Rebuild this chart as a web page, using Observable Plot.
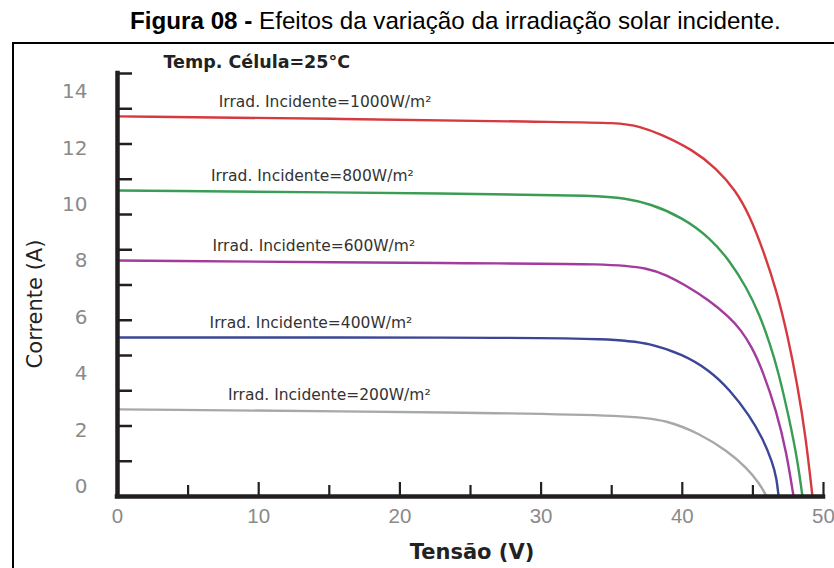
<!DOCTYPE html>
<html>
<head>
<meta charset="utf-8">
<script src="https://cdn.jsdelivr.net/npm/d3@7"></script>
<script src="https://cdn.jsdelivr.net/npm/@observablehq/plot@0.6"></script>
<style>
  html, body { margin: 0; padding: 0; background: #fff; }
  #wrap { position: relative; width: 834px; height: 568px; overflow: hidden; background: #fff; }
  #title { position: absolute; left: 130px; top: 7px; font-family: "Liberation Sans", Arial, sans-serif; font-size: 24.2px; line-height: 28px; color: #000; white-space: nowrap; }
  #box { position: absolute; left: 12px; top: 42px; width: 900px; height: 600px; border: 2px solid #000; box-sizing: border-box; }
  #chart { position: absolute; left: 0; top: 0; }
</style>
</head>
<body>
<div id="wrap">
  <div id="title"><b>Figura 08 -</b> Efeitos da variação da irradiação solar incidente.</div>
  <div id="box"></div>
  <div id="chart"></div>
</div>
<script>
// Irradiance levels (W/m²)
const irradiance = [1000, 800, 600, 400, 200];
const seriesColors = ["#d43a3f", "#3a9d54", "#a23b9c", "#3b4696", "#a8a8a8"];

// I-V curves: voltage (V) and current (A)
const voltage1000 = [0, 15, 30.6, 35.57, 36.99, 38.40, 40.74, 42.43, 43.78, 44.77, 45.69, 46.68, 47.46, 48.16, 48.73, 49.22];
const current1000 = [13.48, 13.4, 13.28, 13.26, 13.12, 12.87, 12.30, 11.63, 10.85, 9.96, 8.79, 7.30, 5.71, 3.94, 2.16, 0];

const voltage800 = [0, 25.67, 34.16, 35.93, 37.69, 40.03, 41.94, 43.35, 44.55, 45.47, 46.18, 46.82, 47.60, 48.16, 48.51];
const current800 = [10.85, 10.74, 10.67, 10.57, 10.39, 9.89, 9.18, 8.37, 7.41, 6.45, 5.46, 4.40, 2.70, 1.28, 0];

const voltage600 = [0, 25.67, 34.87, 37.69, 38.90, 40.03, 41.94, 43.35, 44.13, 44.91, 45.69, 46.68, 47.38, 47.88];
const current600 = [8.37, 8.26, 8.26, 8.09, 7.84, 7.55, 6.95, 6.35, 5.92, 5.32, 4.47, 3.01, 1.56, 0];

const voltage400 = [0, 25.67, 35.36, 37.69, 40.03, 41.94, 43.35, 44.77, 45.69, 46.39, 46.68, 46.82];
const current400 = [5.64, 5.64, 5.60, 5.43, 5.04, 4.47, 3.79, 2.87, 2.06, 1.21, 0.64, 0];

const voltage200 = [0, 25.67, 36.49, 38.90, 41.23, 43.14, 44.55, 45.47, 45.97];
const current200 = [3.09, 2.98, 2.87, 2.70, 2.23, 1.63, 1.03, 0.46, 0];

// Curve labels
const labelTexts = ["Irrad. Incidente=1000W/m²", "Irrad. Incidente=800W/m²", "Irrad. Incidente=600W/m²", "Irrad. Incidente=400W/m²", "Irrad. Incidente=200W/m²"];
const labelVoltage = [14.7, 13.8, 13.9, 13.7, 15.0];

// Axis ticks
const xLabelTicks = [0, 10, 20, 30, 40, 50];
const xMinorTicks = [5, 15, 25, 35, 45];
const xMajorTicks = [10, 20, 30, 40, 50];
const yLabelTicks = [0, 2, 4, 6, 8, 10, 12, 14];
const yMinorTicks = [1.25, 2.5, 3.75, 5, 6.25, 7.5, 8.75, 10, 11.25, 12.5, 13.75, 15];

const voltages = [voltage1000, voltage800, voltage600, voltage400, voltage200];
const currents = [current1000, current800, current600, current400, current200];

const rows = irradiance.flatMap((g, i) => voltages[i].map((v, j) => ({irr: g, v, a: currents[i][j]})));
const labels = irradiance.map((g, i) => ({irr: g, text: labelTexts[i], v: labelVoltage[i], a: currents[i][0]}));

const ink = "#231f20";
const fam = "DejaVu Sans, sans-serif";

const chart = Plot.plot({
  width: 834,
  height: 568,
  marginTop: 73,
  marginBottom: 72,
  marginLeft: 117,
  marginRight: 11,
  style: {background: "transparent", fontFamily: fam, overflow: "visible"},
  x: {domain: [0, 50], label: null},
  y: {domain: [0, 15], label: null},
  color: {domain: irradiance, range: seriesColors},
  marks: [
    Plot.axisX({ticks: xMinorTicks, tickSize: -11, tickFormat: () => "", stroke: ink, strokeWidth: 2.2, label: null}),
    Plot.axisX({ticks: xMajorTicks, tickSize: -14, tickFormat: () => "", stroke: ink, strokeWidth: 2.2, label: null}),
    Plot.axisX({ticks: xLabelTicks, tickSize: 0, tickPadding: 12, color: "#8a8a8a", fontSize: 20.5, fontFamily: "Liberation Sans, Arial, sans-serif", label: null}),
    Plot.axisY({ticks: yMinorTicks, tickSize: -15, tickFormat: () => "", stroke: ink, strokeWidth: 2.5, label: null}),
    Plot.axisY({ticks: yLabelTicks, tickSize: 0, tickPadding: 30, dy: -10, color: "#8a8a8a", fontSize: 20, label: null}),
    Plot.line(rows, {x: "v", y: "a", z: "irr", stroke: "irr", strokeWidth: 2.4, curve: "basis"}),
    Plot.ruleX([0], {stroke: ink, strokeWidth: 4.5, strokeLinecap: "square"}),
    Plot.ruleY([0], {stroke: ink, strokeWidth: 4.5, strokeLinecap: "square"}),
    Plot.text(labels, {x: "v", y: "a", text: "text", dy: -14, fontSize: 15.5, fill: "#333", fontFamily: fam}),
    Plot.text(["Temp. Célula=25°C"], {frameAnchor: "top-left", textAnchor: "start", lineAnchor: "middle", dx: 46, dy: -11, fontSize: 17.5, fontWeight: "bold", fill: "#222"}),
    Plot.text(["Corrente (A)"], {frameAnchor: "left", rotate: -90, lineAnchor: "middle", textAnchor: "middle", dx: -82, dy: 19, fontSize: 21, fill: "#222"}),
    Plot.text(["Tensão (V)"], {frameAnchor: "bottom", lineAnchor: "middle", textAnchor: "middle", dx: 1.5, dy: 56, fontSize: 21, fontWeight: "bold", fill: "#222"})
  ]
});
document.getElementById("chart").appendChild(chart);
</script>
</body>
</html>
